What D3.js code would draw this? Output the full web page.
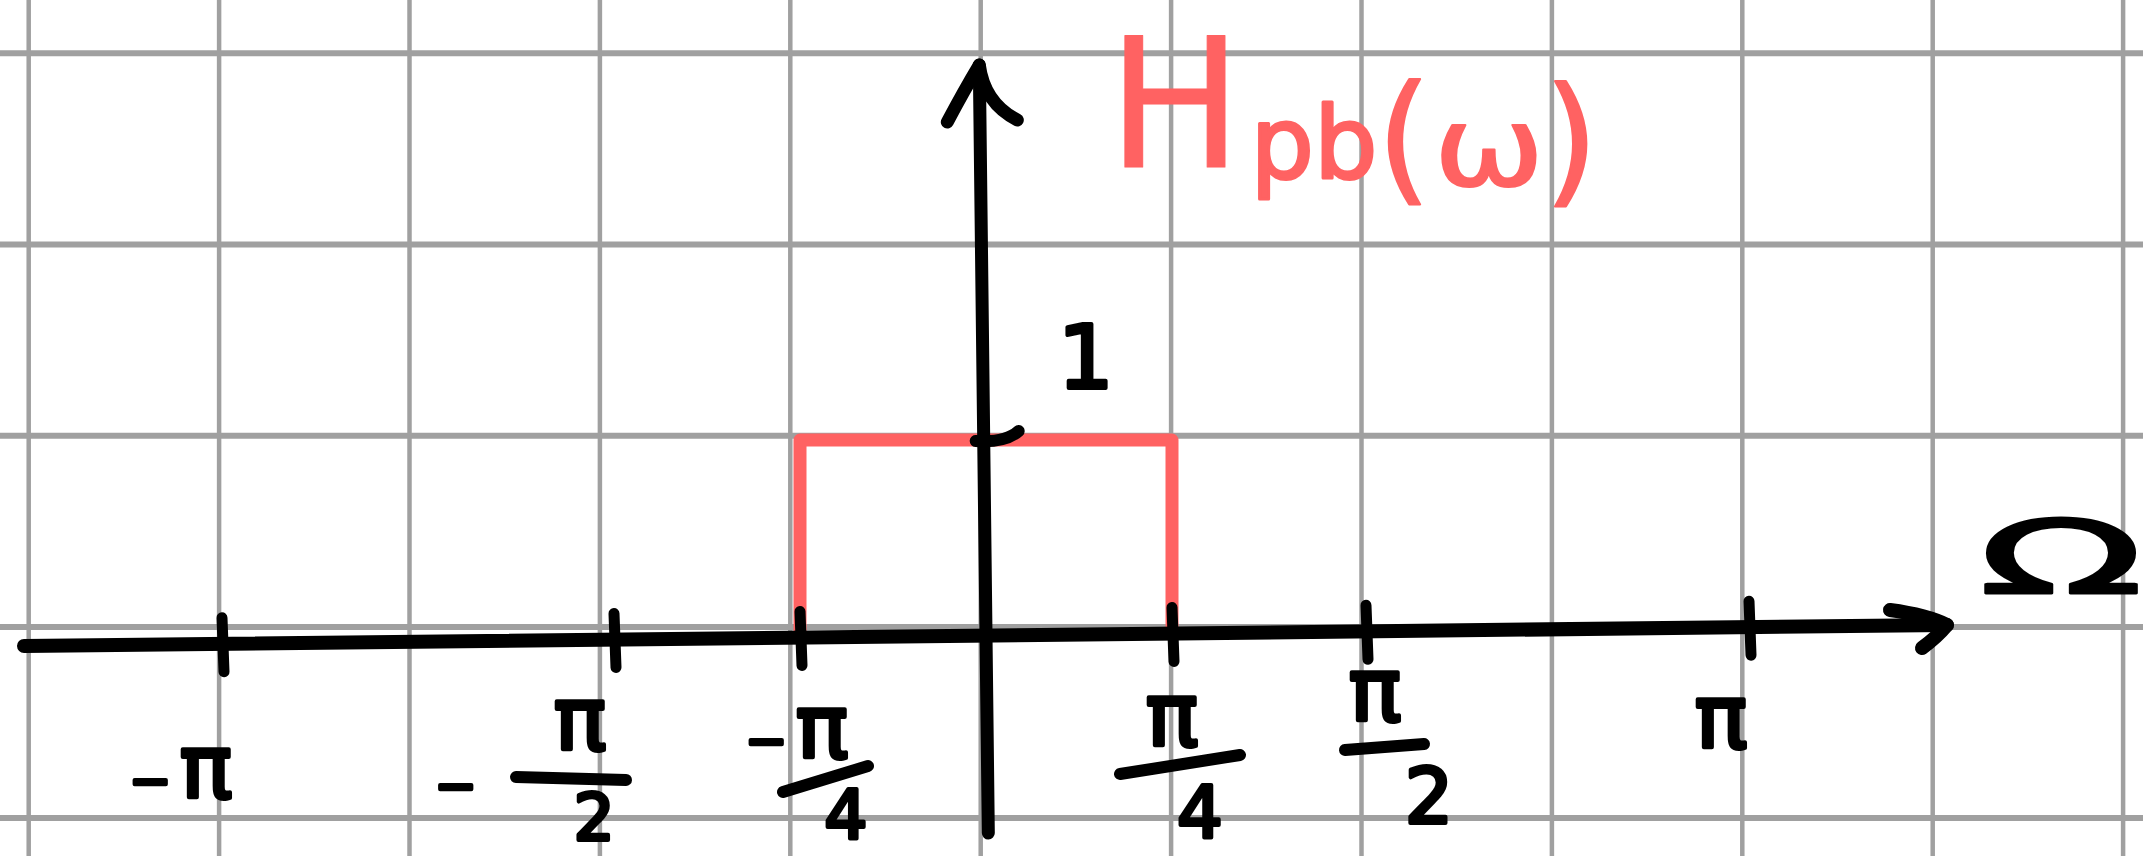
<!DOCTYPE html>
<html>
<head>
<meta charset="utf-8">
<script src="https://cdn.jsdelivr.net/npm/d3@7"></script>
<style>
  html, body { margin: 0; padding: 0; background: #ffffff; }
  svg { display: block; }
</style>
</head>
<body>
<svg id="chart" width="2143" height="856"></svg>
<script>
// Ideal low-pass response H_pb(ω): gain 1 inside |ω| < π/4, 0 elsewhere.
const passbandOmega = [-Math.PI / 4, -Math.PI / 4, Math.PI / 4, Math.PI / 4];
const passbandGain = [0, 1, 1, 0];

// Marked frequencies on the ω axis and their hand-written labels.
const tickValues = [-Math.PI, -Math.PI / 2, -Math.PI / 4, Math.PI / 4, Math.PI / 2, Math.PI];
const tickSigns = ["", "−", "", "", "", ""];
const tickNumerators = ["−π", "π", "−π", "π", "π", "π"];
const tickDenominators = ["", "2", "4", "4", "2", ""];

// Marked gain on the vertical axis.
const gainTicks = [1];
const gainTickLabels = ["1"];

const titleMain = "H";
const titleSub = "pb";
const titleArg = "ω";
const axisName = "Ω";

// ---------------------------------------------------------------------------
const W = 2143, H = 856;
const RED = "#ff6262";
const INK = "#000000";
const FONT = "'DejaVu Sans', sans-serif";

const svg = d3.select("#chart");

// Squared notebook paper.
const grid = { x0: 28.7, dx: 190.4, y0: 53.3, dy: 191.2 };
const gGrid = svg.append("g").attr("stroke", "#a0a0a0");
gGrid.selectAll("line.v")
  .data(d3.range(0, 12))
  .join("line")
  .attr("class", "v")
  .attr("x1", k => grid.x0 + k * grid.dx)
  .attr("x2", k => grid.x0 + k * grid.dx)
  .attr("y1", 0).attr("y2", H)
  .attr("stroke-width", 4.5);
gGrid.selectAll("line.h")
  .data(d3.range(0, 5))
  .join("line")
  .attr("class", "h")
  .attr("y1", k => grid.y0 + k * grid.dy)
  .attr("y2", k => grid.y0 + k * grid.dy)
  .attr("x1", 0).attr("x2", W)
  .attr("stroke-width", 6);

// The frequency marks are spaced unevenly, so the ω scale is piecewise linear.
const omegaDomain = [...tickValues, 0].sort((a, b) => a - b);
const x = d3.scaleLinear()
  .domain(omegaDomain)
  .range([222, 614, 800, 986, 1172, 1366, 1749]);
const y = d3.scaleLinear().domain([0, 1]).range([634, 440]);

// Hand-drawn axes lean slightly.
const xAxisSlope = -21 / 1923;
const yAxisLean = 9 / 768;
const axisYAt = px => 635.5 + (px - x(0)) * xAxisSlope;
const axisXAt = py => x(0) + (py - 635.5) * yAxisLean;

// Response curve.
const line = d3.line()
  .x((d, i) => x(passbandOmega[i]))
  .y((d, i) => y(passbandGain[i]));
svg.append("path")
  .attr("d", line(passbandOmega))
  .attr("fill", "none")
  .attr("stroke", RED)
  .attr("stroke-width", 13)
  .attr("stroke-linejoin", "round")
  .attr("stroke-linecap", "round");

// Axes.
const gAxes = svg.append("g")
  .attr("fill", "none")
  .attr("stroke", INK)
  .attr("stroke-linecap", "round")
  .attr("stroke-linejoin", "round");

const xLeft = 24, xRight = 1947;
gAxes.append("path")
  .attr("d", `M${xLeft},${axisYAt(xLeft)} L${xRight},${axisYAt(xRight)}`)
  .attr("stroke-width", 14);
gAxes.append("path")
  .attr("d", `M${xRight - 57},${axisYAt(xRight) - 15} Q${xRight - 20},${axisYAt(xRight) - 10} ${xRight},${axisYAt(xRight)} Q${xRight - 10},${axisYAt(xRight) + 12} ${xRight - 25},${axisYAt(xRight) + 23}`)
  .attr("stroke-width", 14);

const yTop = 65, yBottom = 833;
gAxes.append("line")
  .attr("x1", axisXAt(yTop)).attr("y1", yTop)
  .attr("x2", axisXAt(yBottom)).attr("y2", yBottom)
  .attr("stroke-width", 13);
gAxes.append("path")
  .attr("d", `M${axisXAt(yTop) - 32},${yTop + 57} Q${axisXAt(yTop) - 15},${yTop + 25} ${axisXAt(yTop)},${yTop} Q${axisXAt(yTop) + 5},${yTop + 38} ${axisXAt(yTop) + 38},${yTop + 55}`)
  .attr("stroke-width", 13);

// Frequency ticks.
gAxes.selectAll("line.tick")
  .data(tickValues)
  .join("line")
  .attr("class", "tick")
  .attr("x1", d => x(d)).attr("x2", d => x(d) + 2)
  .attr("y1", d => axisYAt(x(d)) - 26)
  .attr("y2", d => axisYAt(x(d)) + 28)
  .attr("stroke-width", 11);

// Gain tick.
gAxes.selectAll("path.gtick")
  .data(gainTicks)
  .join("path")
  .attr("class", "gtick")
  .attr("d", d => {
    const px = axisXAt(y(d)), py = y(d) + 1;
    return `M${px - 8},${py} Q${px + 22},${py + 2} ${px + 35},${py - 10}`;
  })
  .attr("stroke-width", 12);

// Labels.
const gLabels = svg.append("g")
  .attr("font-family", FONT)
  .attr("fill", INK)
  .attr("stroke", INK)
  .attr("stroke-width", 4)
  .attr("stroke-linejoin", "round");

function writeSigned(g, str, cx, baseline, size) {
  const t = g.append("text")
    .attr("x", cx).attr("y", baseline)
    .attr("text-anchor", "middle")
    .attr("font-size", size);
  if (str.startsWith("−")) {
    t.append("tspan").attr("font-size", 50).text("−");
    t.append("tspan").attr("dx", 8).text(str.slice(1));
  } else {
    t.text(str);
  }
  return t;
}

// Placement of each label part relative to its tick (hand-lettered layout):
// num = [dx, baseline], bar = [dx1, dx2, y1, y2], den = [dx, baseline, size].
const labelLayout = [
  { num: [-41, 798] },
  { sign: [-158, 803], num: [-34, 750], bar: [-98, 12, 777, 780], den: [-20, 840, 64] },
  { num: [-3, 758], bar: [-17, 68, 792, 766], den: [46, 839, 68] },
  { num: [0, 746], bar: [-52, 68, 774, 755], den: [28, 837, 72] },
  { num: [9, 721], bar: [-21, 58, 750, 744], den: [63, 823, 76] },
  { num: [-28, 748] }
];

tickValues.forEach((v, i) => {
  const tx = x(v);
  const L = labelLayout[i];
  const g = gLabels.append("g");
  if (tickSigns[i]) {
    g.append("text")
      .attr("x", tx + L.sign[0]).attr("y", L.sign[1])
      .attr("text-anchor", "middle")
      .attr("font-size", 50)
      .text(tickSigns[i]);
  }
  writeSigned(g, tickNumerators[i], tx + L.num[0], L.num[1], 88);
  if (tickDenominators[i]) {
    g.append("line")
      .attr("x1", tx + L.bar[0]).attr("x2", tx + L.bar[1])
      .attr("y1", L.bar[2]).attr("y2", L.bar[3])
      .attr("stroke-width", 12)
      .attr("stroke-linecap", "round");
    g.append("text")
      .attr("x", tx + L.den[0]).attr("y", L.den[1])
      .attr("text-anchor", "middle")
      .attr("font-size", L.den[2])
      .text(tickDenominators[i]);
  }
});

// Gain label.
gLabels.selectAll("text.gain")
  .data(gainTicks)
  .join("text")
  .attr("class", "gain")
  .attr("x", d => axisXAt(y(d)) + 102)
  .attr("y", d => y(d) - 52)
  .attr("text-anchor", "middle")
  .attr("font-size", 88)
  .text((d, i) => gainTickLabels[i]);

// Axis name.
gLabels.append("text")
  .attr("transform", "translate(2061,593) scale(2.1,1)")
  .attr("text-anchor", "middle")
  .attr("font-size", 102)
  .attr("stroke-width", 3)
  .text(axisName);

// Title H_pb(ω), lettered piece by piece.
const gTitle = svg.append("g")
  .attr("font-family", FONT)
  .attr("fill", RED)
  .attr("stroke", RED)
  .attr("stroke-linejoin", "round");
gTitle.append("text")
  .attr("x", 1175).attr("y", 167)
  .attr("text-anchor", "middle")
  .attr("font-size", 180)
  .attr("stroke-width", 1)
  .text(titleMain);
gTitle.append("text")
  .attr("x", 1314).attr("y", 178)
  .attr("text-anchor", "middle")
  .attr("font-size", 100)
  .attr("stroke-width", 3)
  .text(titleSub);
gTitle.append("text")
  .attr("x", 1404).attr("y", 186)
  .attr("text-anchor", "middle")
  .attr("font-size", 140)
  .attr("stroke-width", 2)
  .text("(");
gTitle.append("text")
  .attr("transform", "translate(1489,185) scale(1.2,1)")
  .attr("text-anchor", "middle")
  .attr("font-size", 110)
  .attr("stroke-width", 2)
  .text(titleArg);
gTitle.append("text")
  .attr("x", 1571).attr("y", 188)
  .attr("text-anchor", "middle")
  .attr("font-size", 140)
  .attr("stroke-width", 2)
  .text(")");
</script>
</body>
</html>
